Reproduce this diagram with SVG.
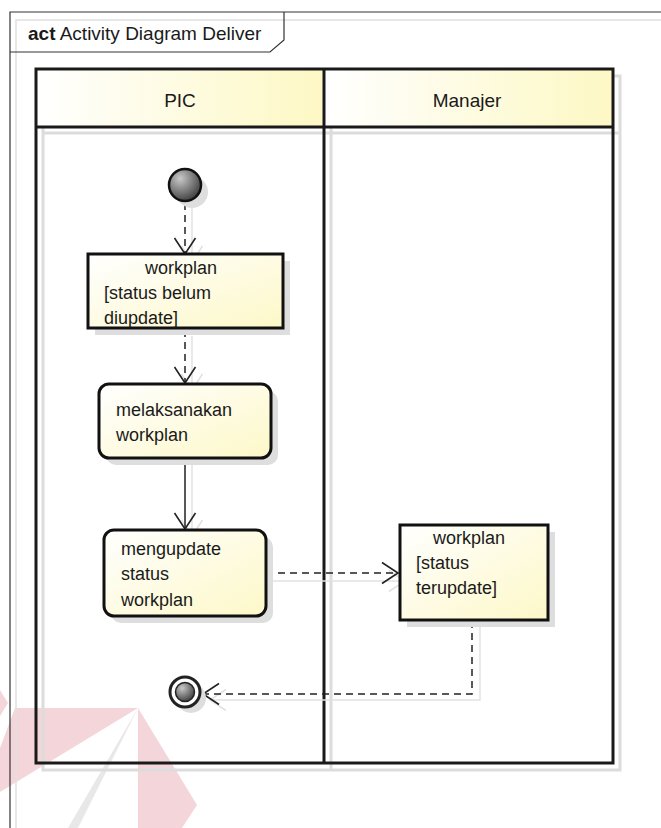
<svg xmlns="http://www.w3.org/2000/svg" width="661" height="828" viewBox="0 0 661 828">
  <defs>
    <style>
      .txt { font-family: "Liberation Sans", Arial, sans-serif; font-size: 18px; fill: #1a1a1a; }
      .head { font-family: "Liberation Sans", Arial, sans-serif; font-size: 19px; fill: #1a1a1a; }
      .title { font-family: "Liberation Sans", Arial, sans-serif; font-size: 19px; fill: #1a1a1a; }
      .lane { fill: none; stroke: #1a1a1a; stroke-width: 3; }
      .shadow { fill: none; stroke: #dcdcdc; stroke-width: 3; }
      .node { stroke: #111; stroke-width: 3; }
      .flow { fill: none; stroke: #222; stroke-width: 1.5; }
      .dash { stroke-dasharray: 7 5; }
      .flowshadow { fill: none; stroke: #e2e2e2; stroke-width: 1.5; }
    </style>
    <linearGradient id="headFill" x1="0" y1="0" x2="1" y2="0">
      <stop offset="0" stop-color="#ffffff"/>
      <stop offset="1" stop-color="#fdf8c4"/>
    </linearGradient>
    <linearGradient id="nodeFill" x1="0" y1="0" x2="1" y2="1">
      <stop offset="0" stop-color="#ffffff"/>
      <stop offset="1" stop-color="#fdf8c8"/>
    </linearGradient>
    <radialGradient id="ballFill" cx="0.35" cy="0.3" r="0.75">
      <stop offset="0" stop-color="#c8c8c8"/>
      <stop offset="1" stop-color="#3c3c3c"/>
    </radialGradient>
    <marker id="open" viewBox="0 0 20 24" refX="17" refY="12" markerWidth="20" markerHeight="24" markerUnits="userSpaceOnUse" orient="auto">
      <path d="M1,1.5 L17,12 L1,22.5" fill="none" stroke="#222" stroke-width="1.6"/>
    </marker>
    <marker id="openShadow" viewBox="0 0 20 24" refX="17" refY="12" markerWidth="20" markerHeight="24" markerUnits="userSpaceOnUse" orient="auto">
      <path d="M1,1.5 L17,12 L1,22.5" fill="none" stroke="#e2e2e2" stroke-width="1.6"/>
    </marker>
  </defs>

  <rect width="661" height="828" fill="#ffffff"/>

  <!-- watermark logo, faint -->
  <g id="watermark" opacity="0.85">
    <polygon points="15,708 138,708 0,792 0,748" fill="#f3d0d4"/>
    <polygon points="0,690 8,703 0,716" fill="#f3d0d4"/>
    <polygon points="138,708 197,805 182,828 138,828" fill="#f3d0d4"/>
    <polygon points="138,708 78,828 68,828" fill="#e4e4e4"/>
  </g>

  <!-- diagram frame -->
  <g id="frame">
    <path d="M16,828 V20 H661" fill="none" stroke="#e0e0e0" stroke-width="1.5"/>
    <path d="M10,828 V12 H661" fill="none" stroke="#333" stroke-width="1.2"/>
    <path d="M10,52 H270 L284,40 V12" fill="none" stroke="#333" stroke-width="1.2"/>
    <text class="title" x="28" y="40"><tspan font-weight="bold">act</tspan> Activity Diagram Deliver</text>
  </g>

  <!-- swimlanes -->
  <g id="lanes">
    <rect x="43" y="76" width="577" height="694" class="shadow"/>
    <line x1="43" y1="133" x2="620" y2="133" class="shadow"/>
    <line x1="331" y1="76" x2="331" y2="770" class="shadow"/>
    <rect x="36" y="69" width="288" height="58" fill="url(#headFill)"/>
    <rect x="324" y="69" width="289" height="58" fill="url(#headFill)"/>
    <rect x="36" y="69" width="577" height="694" class="lane"/>
    <line x1="36" y1="127" x2="613" y2="127" class="lane"/>
    <line x1="324" y1="69" x2="324" y2="763" class="lane"/>
    <text class="head" x="180" y="107" text-anchor="middle">PIC</text>
    <text class="head" x="467" y="107" text-anchor="middle">Manajer</text>
  </g>

  <!-- connectors -->
  <g id="connectors">
    <line x1="192" y1="208" x2="192" y2="262" class="flowshadow" marker-end="url(#openShadow)"/>
    <line x1="192" y1="336" x2="192" y2="390" class="flowshadow" marker-end="url(#openShadow)"/>
    <line x1="192" y1="464" x2="192" y2="536" class="flowshadow" marker-end="url(#openShadow)"/>
    <line x1="273" y1="581" x2="405" y2="581" class="flowshadow" marker-end="url(#openShadow)"/>
    <path d="M480,627 V700 H210" class="flowshadow" marker-end="url(#openShadow)"/>

    <line x1="185" y1="203" x2="185" y2="254" class="flow dash" marker-end="url(#open)"/>
    <line x1="185" y1="330" x2="185" y2="383" class="flow dash" marker-end="url(#open)"/>
    <line x1="185" y1="458" x2="185" y2="529" class="flow" marker-end="url(#open)"/>
    <line x1="266" y1="573" x2="398" y2="573" class="flow dash" marker-end="url(#open)"/>
    <path d="M472,621 V694 H203" class="flow dash" marker-end="url(#open)"/>
  </g>

  <!-- initial node -->
  <g id="start">
    <circle cx="192" cy="192" r="16" fill="#dedede"/>
    <circle cx="185" cy="185" r="16" fill="url(#ballFill)" stroke="#111" stroke-width="2.5"/>
  </g>

  <!-- object node: workplan [status belum diupdate] -->
  <g id="obj-workplan-belum">
    <rect x="95" y="261" width="195" height="74" fill="#dedede"/>
    <rect x="88" y="254" width="195" height="74" fill="url(#nodeFill)" class="node"/>
    <text class="txt" x="181" y="274" text-anchor="middle">workplan</text>
    <text class="txt" x="104" y="299">[status belum</text>
    <text class="txt" x="104" y="324">diupdate]</text>
  </g>

  <!-- action: melaksanakan workplan -->
  <g id="act-melaksanakan">
    <rect x="106" y="391" width="172" height="74" rx="10" fill="#dedede"/>
    <rect x="99" y="384" width="172" height="74" rx="10" fill="url(#nodeFill)" class="node"/>
    <text class="txt" x="116" y="416">melaksanakan</text>
    <text class="txt" x="116" y="441">workplan</text>
  </g>

  <!-- action: mengupdate status workplan -->
  <g id="act-mengupdate">
    <rect x="111" y="537" width="162" height="86" rx="10" fill="#dedede"/>
    <rect x="104" y="530" width="162" height="86" rx="10" fill="url(#nodeFill)" class="node"/>
    <text class="txt" x="121" y="555">mengupdate</text>
    <text class="txt" x="121" y="580">status</text>
    <text class="txt" x="121" y="606">workplan</text>
  </g>

  <!-- object node: workplan [status terupdate] -->
  <g id="obj-workplan-terupdate">
    <rect x="407" y="532" width="148" height="95" fill="#dedede"/>
    <rect x="400" y="525" width="148" height="95" fill="url(#nodeFill)" class="node"/>
    <text class="txt" x="469" y="544" text-anchor="middle">workplan</text>
    <text class="txt" x="416" y="569">[status</text>
    <text class="txt" x="416" y="594">terupdate]</text>
  </g>

  <!-- final node -->
  <g id="end">
    <circle cx="191" cy="698" r="15" fill="#dedede"/>
    <circle cx="185" cy="692" r="15" fill="#ffffff" stroke="#222" stroke-width="3"/>
    <circle cx="185" cy="692" r="9.5" fill="url(#ballFill)" stroke="#222" stroke-width="1.5"/>
  </g>
</svg>
